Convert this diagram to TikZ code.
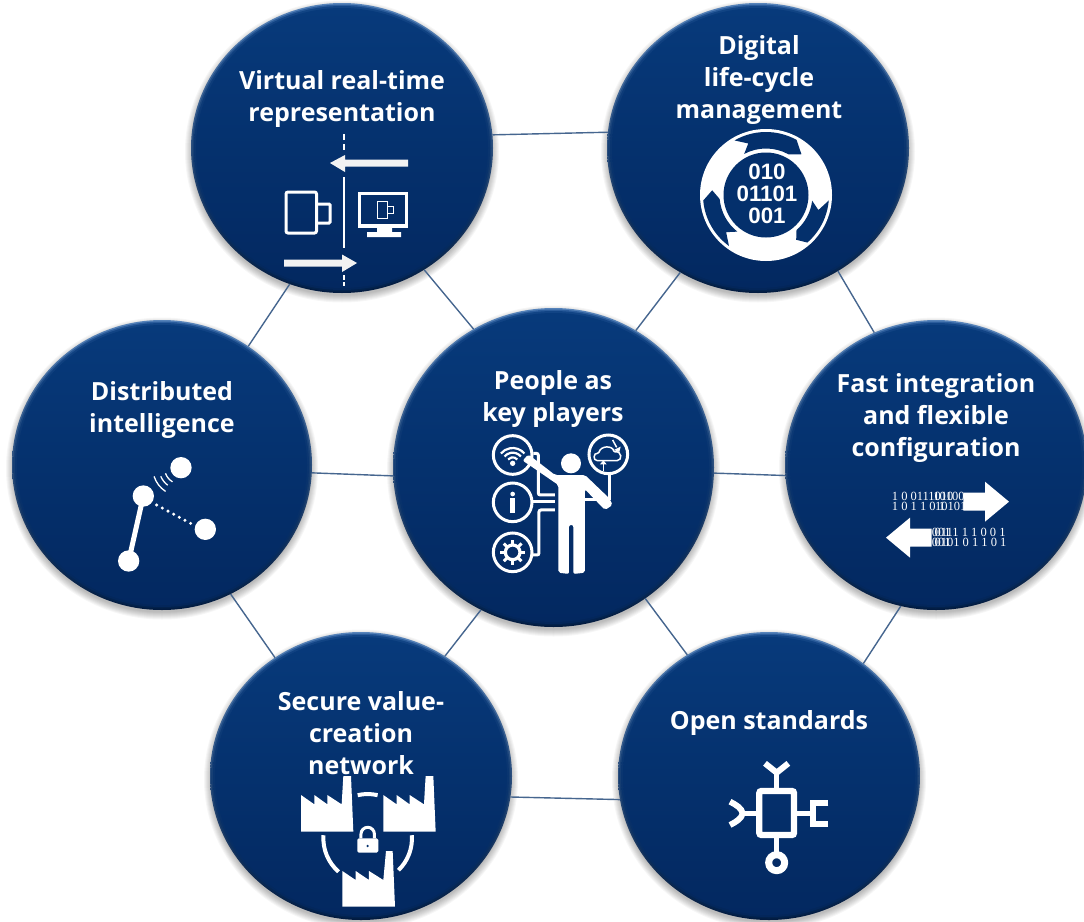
\documentclass[tikz,border=0pt]{standalone}
\usepackage{fontspec}
\usetikzlibrary{shapes.geometric}
\setmainfont{Open Sans}[BoldFont={Open Sans Bold}]
\newfontfamily\bitfont{Liberation Serif}
\newfontfamily\digitfont{Liberation Sans}[BoldFont={Liberation Sans Bold}]
\definecolor{rimtop}{HTML}{5683BA}
\definecolor{rimbot}{HTML}{021B40}
\definecolor{midtop}{HTML}{2A5C9C}
\definecolor{midbot}{HTML}{02214B}
\definecolor{hubtop}{HTML}{073A7B}
\definecolor{hubbot}{HTML}{032860}
\definecolor{hubmid}{HTML}{04306C}
\definecolor{link}{HTML}{46668F}
\tikzset{
  hub/.style 2 args={ellipse,inner sep=0pt,outer sep=0pt,minimum width=#1,minimum height=#2,top color=rimtop,bottom color=rimbot},
  hubtext/.style={text=white,font=\fontsize{25}{32}\selectfont\bfseries,align=center,inner sep=0pt},
  bits/.style={text=white,font=\fontsize{12.5}{12.5}\bitfont,anchor=west,inner sep=0pt},
  conn/.style={draw=link,line width=1.4pt},
  wline/.style={draw=white,line width=#1},
  wline/.default=3pt,
}
\newcommand\hubdisc[5]{%
  \foreach \k in {0,...,7}{\fill[black,opacity=0.035] (#2,#3+3.5) ellipse[x radius=#4+6-\k,y radius=#5+6-\k];}
  \node[hub={#4*2pt}{#5*2pt}] (#1) at (#2,#3) {};
  \shade[top color=midtop,bottom color=midbot] (#2,#3) ellipse[x radius=#4-1.5,y radius=#5-1.5];
  \shade[top color=hubtop!70!midtop,bottom color=hubbot!70!midbot] (#2,#3) ellipse[x radius=#4-3,y radius=#5-3];
  \shade[top color=hubtop,bottom color=hubbot] (#2,#3) ellipse[x radius=#4-5,y radius=#5-5];
}
\begin{document}
\begin{tikzpicture}[x=1pt,y=-1pt,line cap=butt]
\useasboundingbox (0,0) rectangle (1084,921);
\fill[white] (0,0) rectangle (1084,921);
\clip (0,0) rectangle (1084,921);
% discs
\hubdisc{tl}{342}{148}{151}{145}
\hubdisc{tr}{758}{148}{151}{145}
\hubdisc{rt}{936}{465}{151}{145}
\hubdisc{br}{769}{776}{151}{144}
\hubdisc{bl}{361}{776}{151}{144}
\hubdisc{lf}{162}{465}{150}{145}
\hubdisc{ct}{553.5}{467.5}{160.5}{159.5}
% connectors
\draw[conn] (tl.5.3) -- (tr.174.7);
\draw[conn] (tr.-57.4) -- (rt.115.7);
\draw[conn] (rt.-104.7) -- (br.50.2);
\draw[conn] (br.-171.2) -- (bl.-8.7);
\draw[conn] (bl.126.7) -- (lf.-62.2);
\draw[conn] (lf.54.1) -- (tl.-111.8);
\draw[conn] (tl.-56.1) -- (ct.120.1);
\draw[conn] (tr.-122) -- (ct.59.6);
\draw[conn] (rt.-176.2) -- (ct.-2.9);
\draw[conn] (br.124.2) -- (ct.-55.1);
\draw[conn] (bl.55.8) -- (ct.-117.5);
\draw[conn] (lf.-3) -- (ct.-177.9);
% labels
\node[hubtext] (t1) at (342,99) {Virtual real-time\\representation};
\node[hubtext] (t2) at (759,80) {Digital\\life-cycle\\management};
\node[hubtext] (t3) at (936,418) {Fast integration\\and flexible\\configuration};
\node[hubtext] (t4) at (769,723) {Open standards};
\node[hubtext] (t5) at (361,733) {Secure value-\\creation\\network};
\node[hubtext] (t6) at (162,410) {Distributed\\intelligence};
\node[hubtext] (t7) at (553,399) {People as\\key players};
% --- Virtual icon
\draw[wline=2pt] (343.5,134)--(343.5,140) (343.5,144)--(343.5,150) (343.5,177)--(343.5,248) (343.5,275)--(343.5,279.5) (343.5,282)--(343.5,286);
\fill[white!95!black] (408,159.5)--(345,159.5)--(345,155)--(330,163)--(345,172)--(345,166.5)--(408,166.5)--cycle;
\fill[white!95!black] (284,259.5)--(342,259.5)--(342,254.5)--(357,263)--(342,272)--(342,266.5)--(284,266.5)--cycle;
\draw[wline=3pt,rounded corners=2pt] (286,192) rectangle (316.5,233);
\draw[wline=3pt,rounded corners=1pt] (316.5,204) -- (330,204) -- (330,223) -- (316.5,223);
\draw[wline=3.5pt] (359.5,193.5) rectangle (406.5,226);
\fill[white] (377,227) rectangle (392,232) (367,232) rectangle (401,237);
\draw[wline=1pt] (377,201.5) rectangle (387.5,218);
\draw[wline=1pt] (387.5,206) rectangle (393,213);
% --- Digital icon
\begin{scope}[shift={(766,195)}]
\fill[white] (0,0) circle[radius=66pt];
\foreach \tl/\hd/\tp in {120/61/49,-5/-49/-56,234/185/175}{
  \fill[hubmid] (\tl:63pt) arc[start angle=\tl,end angle=\hd,radius=63pt] -- (\tp:54pt) -- (\hd:46.5pt)
    arc[start angle=\hd,end angle=\tl-2,radius=46.5pt] -- ({\tl-11}:54.5pt) -- cycle;
}
\fill[hubmid] (0,0) circle[radius=42.5pt];
\end{scope}
\node[text=white,font=\fontsize{22.3}{21.7}\digitfont\bfseries,align=center,inner sep=0pt] (bits) at (767,194) {010\\01101\\001};
% --- People icon
\begin{scope}[shift={(470,420)},x=0.3333pt,y=-0.3333pt]
\draw[wline] (128,105) circle[radius=58];
\draw[wline] (128,247) circle[radius=58];
\draw[wline] (128,397) circle[radius=58];
\draw[wline] (415,103) circle[radius=58];
\fill[white] (303,130) circle[radius=30];
\fill[white,rounded corners=2pt] (345,165)--(418,235)--(428,255)--(405,270)--(345,208)--(345,458)--(310,462)--(310,315)--(297,315)--(297,462)--(265,458)--(265,195)--(185,140)--(158,122)--(175,103)--(255,165)--cycle;
\draw[wline,rounded corners=2pt] (190,100)--(205,100)--(205,225)--(255,225);
\draw[wline] (185,245)--(255,245);
\draw[wline,rounded corners=2pt] (255,270)--(207,270)--(207,405)--(185,405);
\draw[wline] (418,160)--(418,240);
\draw[wline] (345,240)--(395,240);
% wifi
\fill[white] (128,130) circle[radius=8];
\foreach \r/\w in {18/2.2pt,32/2.2pt,46/2.2pt}{
  \draw[wline=\w] (128,130) ++(40:\r*0.3333pt) arc[start angle=40,end angle=140,radius=\r*0.3333pt];
}
% info
\fill[white] (128,222) circle[radius=7];
\fill[white] (121,235) rectangle (135,280);
% gear
\draw[wline=3.2pt] (128,397) circle[radius=22];
\foreach \a in {0,45,...,315}{\draw[wline=3pt] (128,397) ++(\a:7pt) -- ++(\a:5.5pt);}
% cloud
\draw[wline=1.5pt,rounded corners=1pt] (385,122) .. controls (368,122) and (370,98) .. (386,100) .. controls (392,76) and (428,76) .. (432,96) .. controls (456,92) and (458,122) .. (438,122) -- cycle;
\draw[wline=1.5pt] (400,152)--(400,130);
\fill[white] (390,133)--(410,133)--(400,121)--cycle;
\draw[wline=1.5pt] (428,60)--(440,82);
\fill[white] (432,90)--(452,80)--(448,96)--cycle;
\end{scope}
% --- Fast integration icon
\begin{scope}[shift={(870,470)},x=0.3333pt,y=-0.3333pt]
\fill[white] (280,68)--(345,68)--(345,35)--(417,95)--(345,155)--(345,122)--(280,122)--cycle;
\fill[white] (185,176)--(120,176)--(120,143)--(48,203)--(120,263)--(120,230)--(185,230)--cycle;
\node[bits] (b1) at (65,80) {1 0 0111010\kern-20pt 10100};
\node[bits] (b3) at (65,110) {1 0 1 1 0 1\kern-10pt 10101};
\node[bits] (b5) at (185,187) {001\kern-16pt 0111 1 1 0 0 1};
\node[bits] (b7) at (185,217) {001\kern-16pt 0101 0 1 1 0 1};
\end{scope}
% --- Secure icon
\begin{scope}[shift={(280,770)},x=0.3333pt,y=-0.3333pt]
\foreach \dx/\dy in {0/0,247/0}{
 \fill[white,shift={(\dx,\dy)}] (63,75)--(103,103)--(103,75)--(142,103)--(142,75)--(185,103)--(190,18)--(213,18)--(220,185)--(63,185)--cycle;
}
\fill[white] (187,303)--(227,330)--(227,303)--(267,330)--(267,303)--(310,330)--(318,243)--(338,243)--(345,410)--(187,410)--cycle;
\foreach \a/\b in {103/77,176/229,4/-46}{
 \draw[wline=4pt] (263,205) ++(\a:44.3pt) arc[start angle=\a,end angle=\b,radius=44.3pt];
}
\fill[white,rounded corners=1.5pt] (232,205) rectangle (295,248);
\draw[wline=3pt] (243,205)--(243,192) arc[start angle=180,end angle=0,radius=6.7pt]--(283,205);
\fill[hubmid] (263,228) circle[radius=4];
\end{scope}
% --- Open standards icon
\begin{scope}[shift={(700,750)},x=0.3333pt,y=-0.3333pt]
\draw[wline=6.2pt,rounded corners=2pt] (178,123) rectangle (282,255);
\draw[wline=4.5pt] (230,70)--(230,123) (130,190)--(178,190) (282,190)--(335,190) (230,255)--(230,305);
\draw[wline=6pt] (195,40)--(230,68)--(265,40);
\draw[wline=6pt] (90,155) .. controls (110,165) and (125,175) .. (128,190) .. controls (125,205) and (110,215) .. (90,225);
\draw[wline=6pt] (385,158)--(340,158)--(340,222)--(385,222);
\draw[wline=7pt] (230,338) circle[radius=24];
\end{scope}
% --- Distributed icon
\begin{scope}[shift={(100,450)},x=0.3333pt,y=-0.3333pt]
\foreach \p in {(243,53),(130,138),(316,238),(86,333)}{\fill[white] \p circle[radius=32];}
\draw[wline=5pt] (130,138)--(86,333);
\foreach \i in {0,...,6}{\fill[white] ({170+\i*17},{165+\i*9.2}) circle[radius=5];}
\foreach \r/\a/\b in {16.5/200/239,22/203/233,28.3/198/237}{
 \draw[wline=1.3pt] (243,53) ++(\a:\r pt) arc[start angle=\a,end angle=\b,radius=\r pt];
}
\end{scope}
\end{tikzpicture}
\end{document}
